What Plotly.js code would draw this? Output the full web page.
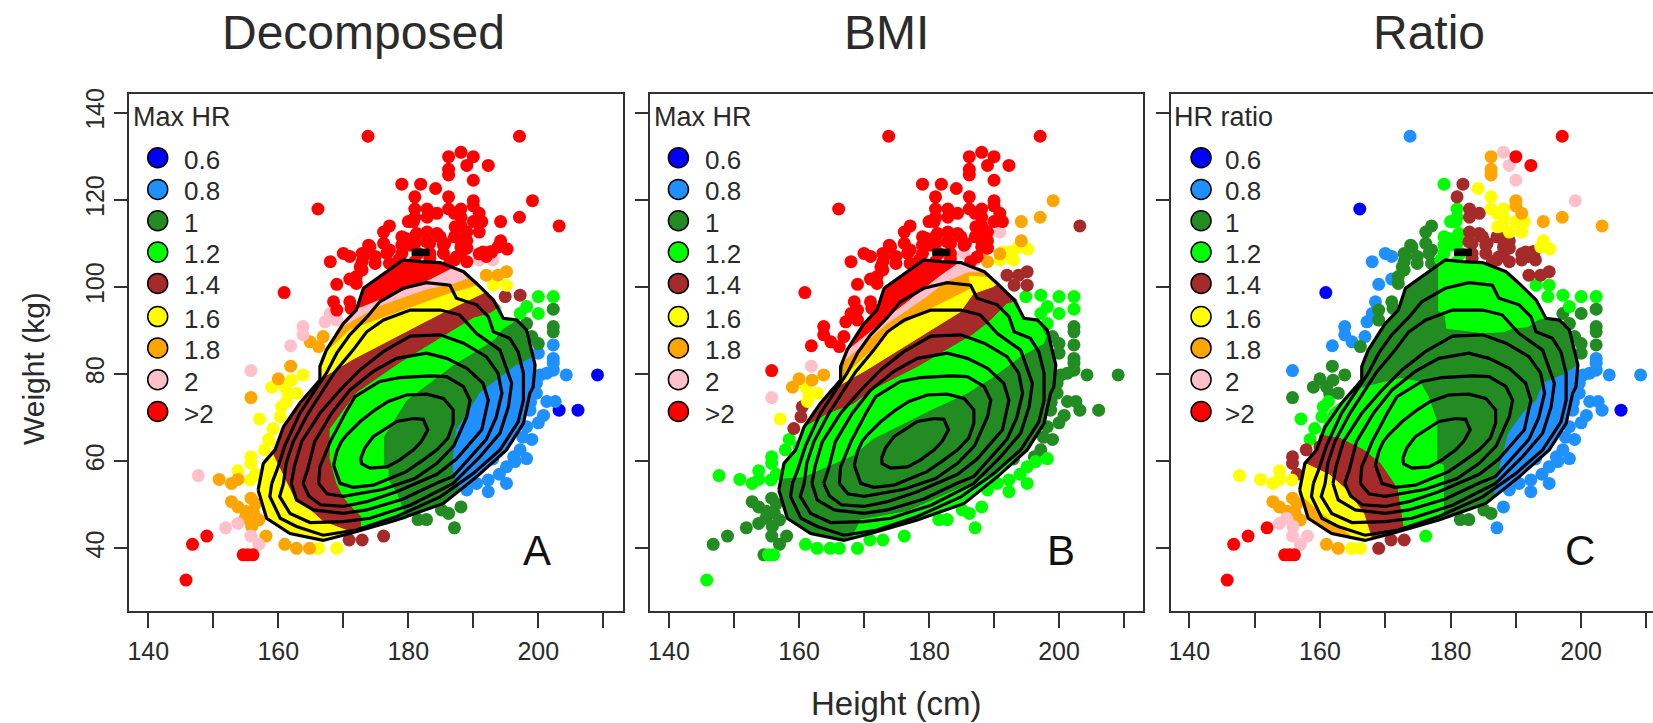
<!DOCTYPE html>
<html><head><meta charset="utf-8">
<script src="https://cdn.plot.ly/plotly-3.0.1.min.js"></script>
<style>html,body{margin:0;padding:0;background:#fff;overflow:hidden}</style></head>
<body><div id="chart" style="width:1653px;height:723px"></div>
<script>
const palette=['#0000FF','#1E90FF','#228B22','#00FF00','#A52A2A','#FFFF00','#FFA500','#FFC0CB','#FF0000'];
const levelLabels=['0.6','0.8','1','1.2','1.4','1.6','1.8','2','>2'];
const keyWeights=[129.67,122.4,115.2,108,100.8,93.2,86,78.7,71.4];
const panelTitles=['Decomposed','BMI','Ratio'];
const legendTitles=['Max HR','Max HR','HR ratio'];
const panelLetters=['A','B','C'];

const heights=[
173.8,197.1,186.2,188.1,190,189,192.3,186.2,186.2,190,
179,181.9,184.2,181,186.2,190,199.1,166.1,190,181,
182.9,186.2,188.1,197.1,182.9,184.4,187.1,190.9,188.1,181,
194.2,190,191.3,203.2,180,177.1,188.1,176.2,189,190.9,
179,181,182.9,184.9,187.1,189,188.1,194.2,176.2,173.9,
179,181,183.3,185.4,195.2,193.8,192.6,190.9,170,171,
168,172.9,174.9,177.1,179,185.4,188.1,189,190.9,193,
195.1,193.8,192,195.1,193.1,197.2,194.9,200,202.3,198.2,
202.3,200,197.2,202.3,202.3,198.2,199,200,202.3,200,
202.3,198.2,202.3,200.3,201.3,204.3,209.1,202.3,199.7,199.7,
201.3,202.6,203.2,206.1,200,198.2,199,197.2,198.2,196.2,
195.1,196.4,195.1,192.3,192.3,190.5,189,188.1,186.2,185.1,
187.1,182.8,181.5,176.2,172.9,170.9,169,166.2,164.8,162.8,
161,158.1,157,155.8,153.8,151.9,155.3,154.6,156.1,149,
146.8,145.8,147.7,150.9,152.8,153.8,153.8,155.7,152.8,153.8,
155.8,154.9,156.2,155.9,155.8,155.8,157.9,159.2,157.1,155.8,
155.8,160,159,161.9,162,163.8,161,161.3,162.8,160.3,
160,161.9,163.8,163.8,164.9,166.2,166.9,167.2,169,168,
168.5,169,171,171.2,169,171,160.9,172,172.9,174.9,
172.9,172,177.1,181,183.3,187.1,188.1,181.5,192,199,
198.7,161.5,160.5,158.5,156.5,200.8,194,193,179.5,181.3,
182.8,184.4,185.6,188.2,189,180.3,174.1,173.1,187.4,180.8,
187.2,172.6,176.7,178.5,183.3,186.4,199,198.8,197.6,156.5,
155,157,191.5,192.8];
const weights=[
134.6,134.6,129.9,130.9,129.9,127.9,127.9,127,125.7,124.5,
123.6,123.6,122.6,120.7,120.7,119.8,119.8,117.9,118.6,117.9,
117.9,117.9,117.9,116,116,116.9,116.9,116.9,116,116,
115,115,115,114,115,114,114,112.6,112.6,112.6,
111.5,111.5,112.6,111.5,111.5,110.6,110.6,110.6,110,109.6,
109.6,110,110,109.6,108.7,109.2,108.1,107.6,107.7,107,
105.8,107.7,107,108.5,107.7,107.7,107.7,105.8,106.2,106.2,
103.5,102.7,102.7,100.4,100.4,98.1,97.8,97.8,97.8,95.5,
94.9,93.9,93.9,90.9,89.7,91.6,88.6,87,86.7,84.8,
83.6,84,82.5,79.8,80.2,79.8,79.8,80.9,77.9,75.6,
73.7,73.7,71.7,71.7,68.8,67.9,65,62.6,60.6,61,
58.7,59.9,54.9,55.7,53,54.9,53.4,49.5,48,48.8,
44.7,46.6,46.6,42.8,41.9,41.9,40,40,40,40,
40.9,42.8,40.9,42.8,45.7,44.7,38.5,38.5,38.5,42.8,
40.9,32.7,56.7,55.8,54.9,55.8,57.8,55.7,50.7,49.5,
51.5,46.9,48,45,61,59.5,62.6,67.5,69.7,74.6,
80.8,78.9,77,81.8,78.6,79.8,77.1,73.7,75.6,70.2,
63.3,86.5,90.9,89,87.4,86.3,88.6,92,92.4,93.9,
96.6,94.7,96.6,95.1,100.6,101.8,98.7,102.4,103.9,105.4,
105.8,100.8,105.4,105.8,107.7,106.2,109.2,107.7,107,75.6,
71.7,75.4,72.5,65,57,70.5,57,60.5,111.2,112.3,
110.4,112.3,110,111.2,108.9,109.6,109.2,107,106.9,115,
113.8,104.6,107.7,106.2,106.6,105.8,80,73.5,65.5,50.2,
48.5,46.5,108,108];
const classA=[
8,8,8,8,8,8,8,8,8,8, 8,8,8,8,8,8,8,8,8,8, 8,8,8,8,8,8,8,8,8,8, 8,8,8,8,8,8,8,8,8,8,
8,8,8,8,8,8,8,8,8,8, 8,8,8,8,8,8,8,8,8,8, 8,8,8,8,8,8,8,8,7,7, 6,6,6,5,5,4,4,3,3,3,
2,3,3,2,2,2,2,2,1,1, 1,1,1,1,1,1,0,1,1,1, 1,1,0,0,1,1,1,1,1,1, 1,1,1,1,1,1,1,2,2,2,
2,2,2,4,4,4,5,5,6,6, 6,6,7,7,7,7,8,8,8,8, 8,8,7,6,6,6,5,5,6,6, 6,6,6,6,5,5,5,5,5,6,
7,6,5,6,5,5,5,5,5,5, 5,7,7,7,6,6,6,7,7,7, 8,8,8,8,8,8,8,8,8,8, 8,8,8,8,8,8,8,8,8,1,
1,5,5,5,5,1,1,1,8,8, 8,8,8,8,8,8,8,8,8,8, 8,8,8,8,8,8,1,1,1,6, 6,6,8,8];
const classB=[
8,8,8,8,8,8,8,8,8,8, 8,8,8,8,8,8,6,8,8,8, 8,8,8,6,8,8,8,8,8,8, 6,8,8,4,8,8,8,8,8,7,
8,8,8,8,8,8,8,6,8,8, 8,8,8,8,5,5,5,6,8,8, 8,8,8,8,8,7,6,6,5,5, 4,4,4,4,4,3,3,3,3,3,
3,3,3,2,2,3,2,2,2,2, 2,2,2,2,2,2,2,2,2,2, 2,2,2,2,2,2,2,2,3,2, 3,3,3,3,3,3,3,3,3,3,
3,3,3,3,3,3,3,3,3,3, 3,2,2,2,2,2,3,2,3,2, 2,3,3,3,3,3,3,3,2,2, 2,2,2,2,3,3,3,4,5,7,
8,6,6,7,6,6,5,5,5,4, 3,8,8,8,8,8,8,8,8,8, 8,8,8,8,8,8,8,8,8,8, 8,8,8,8,8,7,8,8,5,2,
2,5,4,3,3,2,3,2,8,8, 8,8,8,8,8,8,8,8,8,8, 8,8,8,8,8,8,2,2,2,2, 2,2,5,5];
const classC=[
1,8,6,7,8,7,8,6,6,7, 3,4,5,4,5,6,7,0,6,3, 4,5,5,6,4,4,5,6,5,3, 6,5,5,6,3,2,5,2,5,5,
3,3,4,4,4,4,4,5,2,2, 3,3,4,4,5,5,4,4,1,1, 1,2,2,2,3,4,4,4,4,4, 4,4,4,3,3,3,3,3,3,3,
2,2,2,2,2,2,2,2,2,2, 1,2,1,1,1,1,1,1,1,1, 1,1,1,0,1,1,1,1,1,1, 1,1,1,1,1,1,1,1,2,2,
1,2,2,3,4,4,4,5,5,6, 6,7,7,7,7,8,8,8,8,8, 8,8,5,5,5,5,5,5,6,6, 6,7,6,7,4,4,4,3,3,2,
1,2,2,2,2,2,2,3,2,3, 4,1,1,1,1,2,1,1,2,1, 1,2,2,2,1,1,0,2,2,2, 2,2,2,3,4,4,4,3,4,1,
1,2,3,3,4,1,1,1,3,3, 4,4,4,4,4,3,2,2,4,3, 5,2,2,3,4,4,1,1,1,6, 6,6,4,4];

const contour1=[[172.7,60.7],[173.3,63],[174.6,65.6],[176.2,67.2],[178.2,69.1],[180.8,69.8],[182.3,69.6],[183,67.2],[182,64.5],[180.8,62.6],[178.7,60.3],[176.7,58.7],[174.1,58.4],[172.8,59.4],[172.7,60.7]];
const contour2=[[168.5,59.1],[169,62.2],[169.7,64.5],[170.5,66],[172.6,69.1],[174.9,71.8],[176.9,73.7],[179.7,75.2],[182.8,75.4],[185.4,74.4],[186.9,71.8],[186.9,68.7],[186.1,65.3],[184.4,62.6],[182.3,60.3],[179.7,57.6],[177.2,56.1],[174.6,54.5],[171.5,54],[169.5,54.9],[168.5,59.1]];
const contour3=[[166.2,54.9],[166.4,58.7],[168,64.5],[170.3,71],[171.8,74.8],[175.6,78.3],[178.7,79.2],[183.3,79.6],[185.9,79.4],[188.5,77.1],[189.5,74],[189,70.2],[187,63.5],[184.4,59.5],[181,56],[176,53.5],[170,51.9],[167.5,52.5],[166.2,54.9]];
const contour4=[[163.8,54.9],[164.5,58],[165.6,64.5],[168.2,71],[171,76.3],[174.6,80.6],[178.2,83.6],[182.8,84.8],[185.9,83.6],[189,81.3],[191.5,77.9],[192.3,74],[191.3,67.2],[187.4,60.5],[184.4,57],[178.2,53],[173.6,50.7],[170,49.6],[166.5,50],[164.7,52],[163.8,54.9]];
const contour5=[[162,54.9],[162.5,59],[163.6,64.5],[166.4,71],[169.5,76.3],[172.6,81],[176.2,85.2],[180.3,88.7],[184.9,89],[188.5,87.1],[192,84],[193.8,80.2],[194.4,75.6],[193.5,70],[192,65],[189,60],[186.9,56.5],[184.4,55],[179.2,51.3],[173.6,48.8],[170,48],[165.4,48.8],[162.8,51.1],[162,54.9]];
const contour6=[[160.8,54.9],[161.2,59.5],[162.3,64.5],[164.6,71],[168.7,80.5],[171.5,85.5],[173.6,89.7],[176.2,92.4],[180.3,94.7],[184.9,94.7],[187.9,93.6],[190.5,89.3],[194.1,85.5],[195.4,80.2],[195.9,77.9],[195.4,72.5],[194.1,66.4],[191,61],[186.9,54.9],[180.3,49.9],[174.1,46.9],[170,46.1],[164.9,45.9],[161.8,48],[160.2,51.9],[160.8,54.9]];
const contour7=[[159,54.9],[159.8,58],[161,63.5],[163.3,71],[167.4,80.2],[169,84.8],[171,89],[173.6,93],[175.6,96.6],[179.2,99.7],[182.8,101],[186.4,100.4],[187.4,97.4],[190.5,95.9],[192.3,93.2],[193.1,89.7],[195.6,88.2],[196.9,85.1],[197.7,80.2],[197.7,74],[196.9,69],[194.1,62.6],[190,57.2],[184.9,51.8],[178.2,47.3],[172,44.2],[166.9,43],[162.8,45],[160.3,46.9],[158.7,51.9],[159,54.9]];
const contour8=[[156.9,53.4],[157.7,59.5],[159.5,62.6],[160.8,67.9],[163.3,73.3],[166.4,78.6],[166.4,81.7],[167.4,85.5],[170,91.6],[172,94.7],[173.1,99.7],[176.7,103.5],[179.2,106.2],[181.8,105.8],[184.9,105.6],[188.5,103.5],[190.5,100.8],[193.1,97],[194.6,92.8],[196.7,92.4],[198.2,90.1],[199.5,82.1],[199.2,77],[198.7,75.6],[197.7,68.7],[195.1,62.6],[190.5,56.4],[185.4,50.3],[178.2,46.5],[171,43.4],[166.9,41.8],[161.8,43.4],[158.2,46.9],[156.9,53.4]];
const contourPeak=[[180.6,107.2],[183.2,107.2],[183.2,108.7],[180.6,108.7],[180.6,107.2]];

const bandsA=[
 [8,[[172.3,95],[173.1,99.7],[176.7,103.5],[179.2,106.2],[181.8,105.8],[184.9,105.6],[187,104.4],[182.8,101.2]]],
 [7,[[170,91.6],[172,94.7],[172.3,95],[182.8,101.2],[187,104.4],[188.5,103.5],[189.5,102],[186.9,100.6],[182.8,99.3],[175.6,95.5],[169.5,90.5]]],
 [6,[[166.7,84],[169.5,90.5],[175.6,95.5],[182.8,99.3],[186.9,100.6],[189.5,102],[190.8,100.4],[190,100],[185.9,98.2],[178.7,94.3],[171,90.1]]],
 [5,[[166.4,78.6],[166.4,81.7],[166.7,84],[171,90.1],[178.7,94.3],[185.9,98.2],[190,100],[190.8,100.4],[192,98.7],[191.5,98.5],[184.9,93.6],[171.5,83.2],[168.7,80.6]]],
 [4,[[166.4,78.6],[168.7,80.6],[171.5,83.2],[184.9,93.6],[191.5,98.5],[192,98.7],[193.1,97],[194.1,95.5],[192.6,93.9],[190,92.8],[185.9,89],[178.7,82.5],[172,75.6],[167.9,67.2],[167.9,61],[169,54.9],[170,51.9],[171,50],[172.8,47.3],[172.8,44.3],[171,43.8],[166.9,46.1],[164.6,49.2],[162.3,51.9],[160.8,56.4],[159.2,61.4],[160.8,67.9],[163.3,73.3]]],
 [5,[[159.2,61.4],[160.8,56.4],[162.3,51.9],[164.6,49.2],[166.9,46.1],[171,43.8],[171,43.4],[166.9,41.8],[161.8,43.4],[158.2,46.9],[156.9,53.4],[157.7,59.5],[159.5,62.6]]],
 [3,[[167.9,67.2],[172,75.6],[178.7,82.5],[185.9,89],[190,92.8],[192.6,93.9],[194.1,95.5],[194.6,92.8],[196.7,92.4],[194.6,90.5],[193.1,87.8],[186.9,82.1],[179.7,74],[176.2,65.6],[176.2,58.7],[176.9,58],[176.9,55.7],[178.2,52.6],[179.7,46.8],[178.2,46.5],[172.8,44.3],[172.8,47.3],[171,50],[170,51.9],[169,54.9],[167.9,61]]],
 [1,[[199.2,84],[199.5,82.1],[199.2,77],[197.7,68.7],[195.1,62.6],[190.5,56.4],[188,53.4],[186.9,58],[186.9,60.3],[187.4,67.2],[189.5,71.8],[191,75.6],[193.6,78.6],[196.7,82.1]]]
];
const bandsB=[
 [3,[[157.2,56.1],[160.7,56.4],[163.7,58.4],[168.4,61.4],[171.4,65.2],[180.7,72.1],[185.8,75.6],[189.9,79.4],[194,84],[197.6,87],[198,88.6],[196.7,92.4],[194.6,92.8],[193.5,97],[191.9,96.2],[189.4,92.4],[186.8,89.3],[178.1,81.7],[170.9,76.3],[168.4,73.3],[164.3,71],[160.7,67.9],[159.5,62.6],[157.7,59.5]]],
 [3,[[168,42],[171,43.4],[178.2,46.5],[185.4,50.3],[190.5,56.4],[193,60.3],[189.9,57.2],[184.3,53.4],[176.6,48.4],[169.4,46.5]]],
 [4,[[160.7,67.9],[164.3,71],[168.4,73.3],[170.9,76.3],[178.1,81.7],[186.8,89.3],[189.4,92.4],[191.9,96.2],[193.5,97],[190.5,100.8],[189.9,100.1],[186.8,98.5],[184.8,94.3],[170.4,81],[165.8,77.1],[163.3,73.3]]],
 [5,[[165.8,77.1],[170.4,81],[184.8,94.3],[186.8,98.5],[189.9,100.1],[190.5,100.8],[189.4,102.4],[186,102.7],[186.3,99.7],[180.7,95.5],[174.5,90.5],[166.8,79.4],[166.4,78.6]]],
 [6,[[166.4,78.6],[166.8,79.4],[174.5,90.5],[180.7,95.5],[186.3,99.7],[186,102.7],[189.4,102.4],[188.5,103.5],[186,103.5],[182.5,101.2],[179.6,97.8],[173.5,91.6],[167,83.2]]],
 [7,[[167,83.2],[173.5,91.6],[179.6,97.8],[182.5,101.2],[186,103.5],[188.5,103.5],[186,105],[184.3,105.4],[181.7,102.7],[174,93.6],[167.4,85.5]]],
 [8,[[167.4,85.5],[174,93.6],[181.7,102.7],[184.3,105.4],[181.8,105.8],[179.2,106.2],[176.7,103.5],[173.1,99.7],[172,94.7],[170,91.6]]]
];
const bandsC=[
 [3,[[178.1,105.4],[179.2,106.2],[181.8,105.8],[184.9,105.6],[188.5,103.5],[190.5,100.8],[193.1,97],[194.6,92.8],[193.7,92.8],[191.9,90.9],[189.4,90.5],[188.1,89.7],[185,89.5],[179.4,90.5],[179.2,93.2],[178.1,94.7]]],
 [3,[[160,66],[161.5,71.7],[166.1,76.7],[170.2,78.2],[172.3,79],[175.3,78.2],[176.6,74.8],[177.9,69.1],[177.9,59.5],[178.9,59.1],[178.9,47],[172.8,44.3],[172.5,47.3],[171.8,53.8],[169.2,59.5],[166.6,62.6],[163.1,65.2]]],
 [4,[[157.7,59.5],[161.5,56.8],[164.1,53.4],[166.7,48],[167.9,42.2],[171,43.4],[172.8,44.3],[172.5,47.3],[171.8,53.8],[169.2,59.5],[166.6,62.6],[163.1,65.2],[160,66],[159.5,62.6]]],
 [5,[[157.7,59.5],[161.5,56.8],[164.1,53.4],[166.7,48],[167.9,42.2],[166.9,41.8],[164.6,43],[162.1,45.7],[159,49.5],[156.8,52.6],[156.9,53.4]]],
 [6,[[156.8,52.6],[159,49.5],[162.1,45.7],[164.6,43],[161.8,43.4],[158.2,46.9]]],
 [1,[[199.5,82.1],[197.3,79.8],[194.2,77.9],[193.2,74],[191.1,71],[188.9,66.4],[188.1,61.8],[186.8,54.1],[186.8,52],[190.5,56.4],[195.1,62.6],[197.7,68.7],[198.7,75.6],[199.2,77]]]
];
const contours=[contour8,contour7,contour6,contour5,contour4,contour3,contour2,contour1];

const W=1653,H=723;
const ink='#2a2a2a';
const panels=[
 {ax:'',dom:[129.3,622.7],range:[137.08,212.98],cls:classA,bands:bandsA,keyX:141.45,txtX:145.2,ttlX:137.35,letX:199.75,mirror:true},
 {ax:'2',dom:[650,1143],range:[137.08,212.92],cls:classB,bands:bandsB,keyX:141.45,txtX:145.2,ttlX:137.35,letX:200.3,mirror:true},
 {ax:'3',dom:[1170.7,1653],range:[137.15,211.0],cls:classC,bands:bandsC,keyX:141.8,txtX:145.2,ttlX:137.36,letX:199.8,mirror:false}
];
const traces=[],annotations=[];
const layout={width:W,height:H,margin:{l:0,r:0,t:0,b:0},paper_bgcolor:'#fff',plot_bgcolor:'#fff',showlegend:false,hovermode:false,font:{family:'Liberation Sans, Arial, sans-serif',color:ink}};
const xTicks=[140,150,160,170,180,190,200,210];
const xLabels=['140','','160','','180','','200',''];
const yTicks=[40,60,80,100,120,140];
panels.forEach((p,i)=>{
  const xa='x'+p.ax, ya='y'+p.ax;
  palette.forEach((col,c)=>{
    const hs=[],ws=[];
    p.cls.forEach((k,j)=>{if(k===c){hs.push(heights[j]);ws.push(weights[j]);}});
    if(hs.length) traces.push({type:'scatter',mode:'markers',x:hs,y:ws,xaxis:xa,yaxis:ya,marker:{size:13,color:col,line:{width:0}}});
  });
  const poly=(pts,col)=>traces.push({type:'scatter',mode:'lines',x:pts.map(d=>d[0]),y:pts.map(d=>d[1]),xaxis:xa,yaxis:ya,fill:'toself',fillcolor:col,line:{width:1,color:col}});
  poly(contour8,palette[2]);
  p.bands.forEach(b=>poly(b[1],palette[b[0]]));
  contours.forEach(c=>traces.push({type:'scatter',mode:'lines',x:c.map(d=>d[0]),y:c.map(d=>d[1]),xaxis:xa,yaxis:ya,line:{color:'#000',width:3.2}}));
  traces.push({type:'scatter',mode:'lines',x:contourPeak.map(d=>d[0]),y:contourPeak.map(d=>d[1]),xaxis:xa,yaxis:ya,fill:'toself',fillcolor:'#000',line:{color:'#000',width:1}});
  traces.push({type:'scatter',mode:'markers',x:keyWeights.map(()=>p.keyX),y:keyWeights,xaxis:xa,yaxis:ya,marker:{size:20,color:palette,line:{color:'#000',width:1.5}}});
  levelLabels.forEach((t,j)=>annotations.push({xref:xa,yref:ya,x:p.txtX,y:keyWeights[j],yshift:-2,text:t,showarrow:false,xanchor:'left',yanchor:'middle',font:{size:26,color:ink}}));
  annotations.push({xref:xa,yref:ya,x:p.ttlX,y:139.1,text:legendTitles[i],showarrow:false,xanchor:'left',yanchor:'middle',font:{size:27,color:ink}});
  annotations.push({xref:xa,yref:ya,x:p.letX,y:39.4,text:panelLetters[i],showarrow:false,xanchor:'center',yanchor:'middle',font:{size:42,color:'#111'}});
  layout['xaxis'+p.ax]={domain:[p.dom[0]/W,p.dom[1]/W],range:p.range,anchor:ya,showgrid:false,zeroline:false,showline:true,linecolor:'#333',linewidth:2,mirror:true,ticks:'outside',ticklen:15,tickwidth:2,tickcolor:'#333',tickmode:'array',tickvals:xTicks,ticktext:xLabels,tickfont:{size:25,color:ink},tickangle:0,ticklabelstandoff:2};
  layout['yaxis'+p.ax]={domain:[(H-611)/H,(H-94)/H],range:[25.6,144.3],anchor:xa,showgrid:false,zeroline:false,showline:true,linecolor:'#333',linewidth:2,mirror:p.mirror,ticks:'outside',ticklen:13,tickwidth:2,tickcolor:'#333',tickmode:'array',tickvals:yTicks,showticklabels:i===0,tickfont:{size:25,color:ink},tickangle:-90};
});
const titleX=[363.7,886.5,1428.7];
panelTitles.forEach((t,i)=>annotations.push({xref:'paper',yref:'paper',x:titleX[i]/W,y:(H-33)/H,text:t,showarrow:false,xanchor:'center',yanchor:'middle',font:{size:48,color:'#2b2b2b'}}));
annotations.push({xref:'paper',yref:'paper',x:896/W,y:(H-703)/H,text:'Height (cm)',showarrow:false,xanchor:'center',yanchor:'middle',font:{size:33,color:ink}});
annotations.push({xref:'paper',yref:'paper',x:33/W,y:(H-369)/H,text:'Weight (kg)',showarrow:false,textangle:-90,xanchor:'center',yanchor:'middle',font:{size:30,color:ink}});
layout.annotations=annotations;
Plotly.newPlot('chart',traces,layout,{displayModeBar:false,responsive:false});
</script></body></html>
